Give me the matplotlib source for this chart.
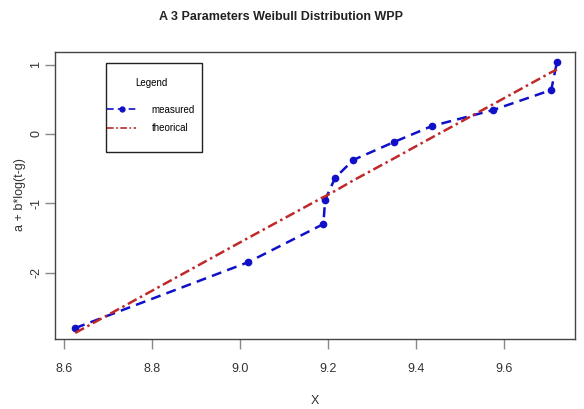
import numpy as np
import matplotlib.pyplot as plt
from matplotlib.patches import Rectangle

# measured points and the fitted 3-parameter Weibull line
x = [8.626, 9.019, 9.190, 9.194, 9.217, 9.258, 9.351, 9.437, 9.576, 9.708, 9.721]
measured = [-2.80, -1.85, -1.30, -0.95, -0.63, -0.375, -0.115, 0.115, 0.346, 0.635, 1.04]
theorical = [-2.87, -1.50, -0.91, -0.90, -0.82, -0.67, -0.35, -0.05, 0.43, 0.89, 0.93]

xticks = [8.6, 8.8, 9.0, 9.2, 9.4, 9.6]
yticks = [-2, -1, 0, 1]

plt.rcParams['font.family'] = ['Liberation Sans', 'DejaVu Sans']

fig = plt.figure(figsize=(5.84, 4.09), dpi=100)
ax = fig.add_axes([0.0942, 0.1711, 0.8904, 0.7018])

ax.plot(x, measured, color='#1010c8', linestyle=(0, (4, 2.5)), linewidth=1.8,
        marker='o', markersize=4.5, label='measured')
ax.plot(x, theorical, color='#c0282a', linestyle=(0, (4, 1.5, 1, 1.5)), linewidth=1.8,
        label='theorical')

ax.set_xlim(8.580, 9.762)
ax.set_ylim(-2.958, 1.183)
ax.set_xticks(xticks)
ax.set_xticklabels([f'{t:.1f}' for t in xticks])
ax.set_yticks(yticks)
ax.set_yticklabels([str(t) for t in yticks], rotation=90, va='center')
ax.tick_params(direction='out', length=7, width=1, color='#888888', labelsize=9,
               labelcolor='#333333')
ax.tick_params(axis='x', pad=10)
ax.tick_params(axis='y', pad=2)
for s in ax.spines.values():
    s.set_color('#444444')
    s.set_linewidth(1)

fig.text(281 / 584, 1 - 17 / 409, 'A 3 Parameters Weibull Distribution WPP', fontsize=9,
         fontweight='bold', color='#222222', ha='center', va='center')
fig.text(315 / 584, 1 - 401 / 409, 'X', fontsize=9, color='#333333',
         ha='center', va='center')
fig.text(20 / 584, 1 - 195 / 409, 'a + b*log(t-g)', fontsize=9, color='#333333',
         rotation=90, ha='center', va='center')

# legend contents without frame, box drawn separately (taller than the contents)
leg = ax.legend(loc='upper left', bbox_to_anchor=(107 / 584, 1 - 78 / 409),
                bbox_transform=fig.transFigure, title='Legend',
                fontsize=7, title_fontsize=7, frameon=False, borderpad=0,
                labelspacing=0.85, handlelength=3.0, handletextpad=1.6, borderaxespad=0)
leg._legend_box.sep = 12
for h in leg.legend_handles:
    h.set_linewidth(1.2)
    h.set_markersize(3.5)
fig.add_artist(Rectangle((106 / 584, 1 - 152 / 409), 96 / 584, 89 / 409,
                         transform=fig.transFigure, fill=False,
                         edgecolor='#222222', linewidth=1))

fig.savefig('out.png', dpi=100)
